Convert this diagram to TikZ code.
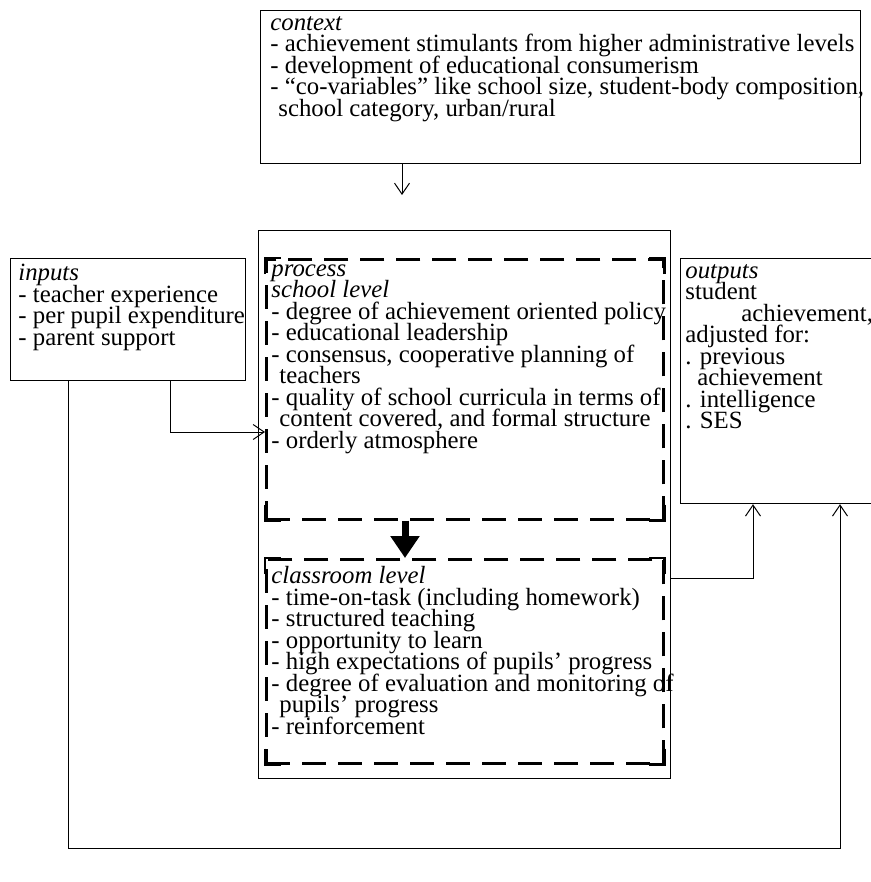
\documentclass[tikz,border=0pt]{standalone}
\usepackage{fontspec}
\setmainfont{Liberation Serif}
\usetikzlibrary{arrows.meta}
\newcommand{\boxfont}{\fontsize{12.4}{10.75}\selectfont\lineskiplimit=-20pt\relax}

\begin{document}
\begin{tikzpicture}[x=0.5pt, y=-0.5pt,
	box/.style={draw, line width=0.6pt, anchor=north west, inner sep=0pt},
	dbox/.style={draw, line width=1.3pt, dash pattern=on 12pt off 6pt, anchor=north west, inner sep=0pt},
	corner/.style={line width=1.3pt},
	txt/.style={anchor=north west, align=left, inner sep=0pt, font=\boxfont},
	arr/.style={line width=0.5pt, -{Straight Barb[length=5.5pt,width=7.5pt]}},
	bigarr/.style={line width=3.5pt, -{Triangle[length=11pt,width=14pt]}}]
	\useasboundingbox (0,0) rectangle (871,882);
	% boxes
	\node[box, minimum width=300pt, minimum height=76.5pt] (ctx) at (260,10) {};
	\node[box, minimum width=117.5pt, minimum height=61pt] (inp) at (10,258) {};
	\node[box, minimum width=206pt, minimum height=274pt] (proc) at (258,230) {};
	\node[dbox, minimum width=198.5pt, minimum height=130pt] (school) at (265,258) {};
	\node[dbox, minimum width=198.5pt, minimum height=102pt] (class) at (265,558) {};
	\node[box, minimum width=97pt, minimum height=122.5pt] (outp) at (680,258) {};
	\foreach \b in {school,class}
		\foreach \c/\sx/\sy in {north west/1/-1, north east/-1/-1, south east/-1/1, south west/1/1}
			\draw[corner] ([yshift=\sy*8pt]\b.\c) -- (\b.\c) -- ([xshift=\sx*8pt]\b.\c);
	% texts
	\node[txt] (ctxt) at ([shift={(10,6)}]ctx.north west) {\textit{context}\\
		- achievement stimulants from higher administrative levels\\
		- development of educational consumerism\\
		- “co-variables” like school size, student-body composition,\\
		\hspace*{4pt}school category, urban/rural};
	\node[txt] (inpt) at ([shift={(8,6)}]inp.north west) {\textit{inputs}\\
		- teacher experience\\
		- per pupil expenditure\\
		- parent support};
	\node[txt] (schoolt) at ([shift={(6,6)}]school.north west) {\textit{process}\\
		\textit{school level}\\
		- degree of achievement oriented policy\\
		- educational leadership\\
		- consensus, cooperative planning of\\
		\hspace*{4pt}teachers\\
		- quality of school curricula in terms of\\
		\hspace*{4pt}content covered, and formal structure\\
		- orderly atmosphere};
	\node[txt] (classt) at ([shift={(6,8)}]class.north west) {\textit{classroom level}\\
		- time-on-task (including homework)\\
		- structured teaching\\
		- opportunity to learn\\
		- high expectations of pupils' progress\\
		- degree of evaluation and monitoring of\\
		\hspace*{4pt}pupils' progress\\
		- reinforcement};
	\node[txt] (outpt) at ([shift={(5,6)}]outp.north west) {\textit{outputs}\\
		student\\
		\hspace*{28pt}achievement,\\
		adjusted for:\\
		. previous\\
		\hspace*{6pt}achievement\\
		. intelligence\\
		. SES};
	% connectors
	\coordinate (ctxa) at (402,195);
	\draw[arr] (ctx.south -| ctxa) -- (ctxa);
	\draw[arr] (inp.south -| 170,0) |- (school.west |- 0,432);
	\draw[arr] (inp.south -| 68,0) -- (68,848) -| (outp.south -| 840,0);
	\draw[arr] (proc.east |- 0,578) -| (outp.south -| 753,0);
	\draw[bigarr] (school.south -| 405,0) -- (class.north -| 405,0);
\end{tikzpicture}
\end{document}
